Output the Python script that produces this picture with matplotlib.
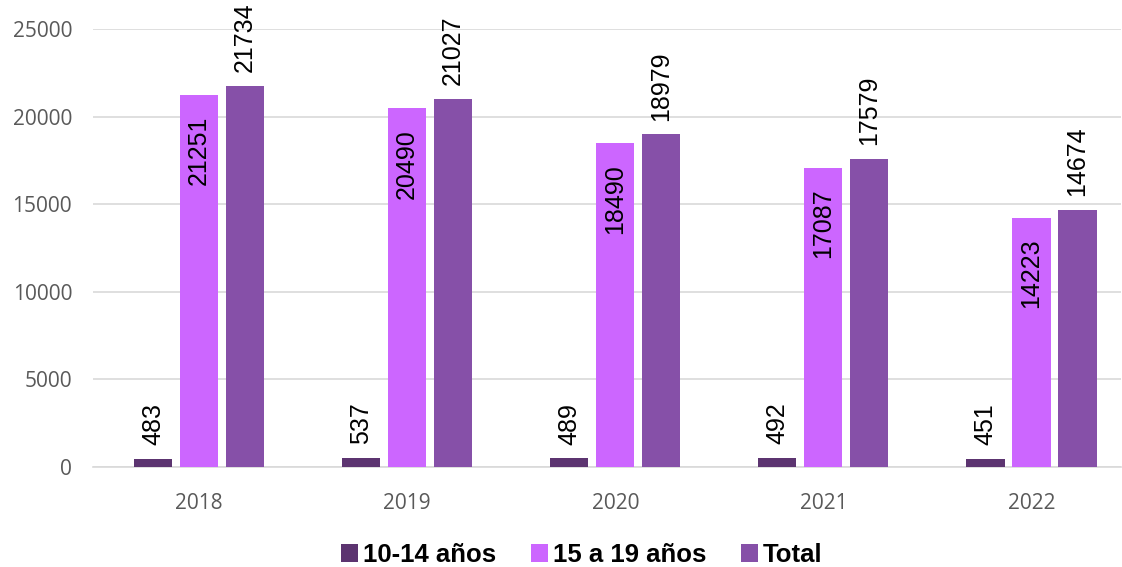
import matplotlib
matplotlib.use("Agg")
import matplotlib.pyplot as plt
import numpy as np

years = ["2018", "2019", "2020", "2021", "2022"]
s_10_14 = [483, 537, 489, 492, 451]
s_15_19 = [21251, 20490, 18490, 17087, 14223]
s_total = [21734, 21027, 18979, 17579, 14674]
series_names = ["10-14 años", "15 a 19 años", "Total"]
colors = ["#5C3470", "#CC66FF", "#8650A8"]

fig = plt.figure(figsize=(11.22, 5.67), dpi=100)
ax = fig.add_axes([93/1122, 1-467/567, (1121-93)/1122, (467-29)/567])

x = np.arange(len(years))
w = 0.183
pitch = 0.221
label_font = ["Liberation Sans", "DejaVu Sans"]
bars = []
for i, (vals, name, c) in enumerate(zip([s_10_14, s_15_19, s_total], series_names, colors)):
    b = ax.bar(x + (i - 1) * pitch, vals, width=w, color=c, label=name, zorder=3)
    bars.append(b)
    for rect, v in zip(b, vals):
        cx = rect.get_x() + rect.get_width() / 2
        if i == 1:
            ax.annotate(str(v), (cx, v), xytext=(0, -15), textcoords="offset points",
                        rotation=90, ha="center", va="top", fontsize=18,
                        family=label_font, color="black", zorder=4)
        else:
            ax.annotate(str(v), (cx, v), xytext=(0, 10), textcoords="offset points",
                        rotation=90, ha="center", va="bottom", fontsize=18,
                        family=label_font, color="black", zorder=4)

ax.set_xlim(-0.51, 4.43)
ax.set_ylim(0, 25000)
ax.set_yticks([0, 5000, 10000, 15000, 20000, 25000])
ax.set_xticks(x)
ax.set_xticklabels(years)
ax.yaxis.grid(True, color="#D9D9D9", linewidth=1.2, zorder=0)
for s in ["top", "right", "left"]:
    ax.spines[s].set_visible(False)
ax.spines["bottom"].set_color("#D9D9D9")
ax.spines["bottom"].set_linewidth(1.2)
ax.tick_params(axis="both", length=0, labelcolor="#595959", labelsize=15)
ax.tick_params(axis="x", pad=19)
ax.tick_params(axis="y", pad=15)
for lab in ax.get_xticklabels() + ax.get_yticklabels():
    lab.set_family(["Open Sans", "DejaVu Sans"])

leg = fig.legend(handles=bars, labels=series_names, loc="center", bbox_to_anchor=(582/1122, 1-555/567),
                 ncol=3, frameon=False, handlelength=0.65, handleheight=0.65, handletextpad=0.2,
                 columnspacing=1.35, prop={"family": label_font, "weight": "bold", "size": 18.5})

fig.savefig("out.png", dpi=100)
